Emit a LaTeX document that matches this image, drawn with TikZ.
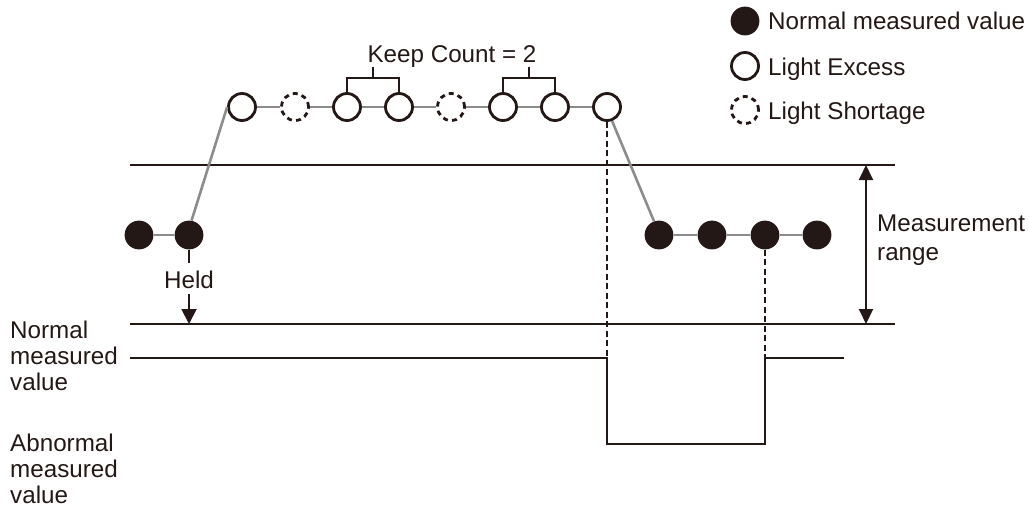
\documentclass[tikz,border=0pt]{standalone}
\usepackage{fontspec}
\setmainfont{Liberation Sans}
\usetikzlibrary{arrows.meta}
\definecolor{ink}{HTML}{231815}
\definecolor{connc}{HTML}{8C8C8C}
\begin{document}
\begin{tikzpicture}[x=1pt,y=-1pt,
  font=\fontsize{24.2}{26}\selectfont,
  meas/.style={circle, fill=ink, minimum size=28.8pt, inner sep=0pt},
  exc/.style={circle, draw=ink, line width=2.8pt, fill=white, minimum size=27pt, inner sep=0pt},
  short/.style={exc, dash pattern=on 5pt off 4.2pt},
  conn/.style={draw=connc, line width=2.6pt},
  rule/.style={draw=ink, line width=1.9pt},
  dline/.style={draw=ink, line width=1.8pt, dash pattern=on 6pt off 3.5pt},
  lbl/.style={anchor=base west, inner sep=0pt, text=ink},
  ctr/.style={anchor=base, inner sep=0pt, text=ink},
  tipped/.style={-{Triangle[width=15pt,length=15pt]}},
  dtipped/.style={{Triangle[width=14pt,length=15pt]}-{Triangle[width=14pt,length=15pt]}}
]
\useasboundingbox (0,0) rectangle (1029,515);

% range lines
\coordinate (tl) at (130,165); \coordinate (tr) at (895,165);
\coordinate (bl) at (130,324); \coordinate (br) at (895,324);
\draw[rule] (tl) -- (tr);
\draw[rule] (bl) -- (br);

% measured points
\node[meas] (b1) at (139,235) {};
\node[meas] (b2) at (189,235) {};
\node[exc] (w1) at (242,107) {};
\node[short] (s1) at (295,107) {};
\node[exc] (w2) at (347,107) {};
\node[exc] (w3) at (399,107) {};
\node[short] (s2) at (451,107) {};
\node[exc] (w4) at (503,107) {};
\node[exc] (w5) at (555,107) {};
\node[exc] (w6) at (607,107) {};
\node[meas] (r1) at (659,235) {};
\node[meas] (r2) at (712,235) {};
\node[meas] (r3) at (765,235) {};
\node[meas] (r4) at (817,235) {};

% connectors
\draw[conn] (b1) -- (b2);
\draw[conn] (b2.80) -- (w1.180);
\draw[conn] (w1) -- (s1);
\draw[conn] (s1) -- (w2);
\draw[conn] (w2) -- (w3);
\draw[conn] (w3) -- (s2);
\draw[conn] (s2) -- (w4);
\draw[conn] (w4) -- (w5);
\draw[conn] (w5) -- (w6);
\draw[conn] (w6.-70) -- (r1.110);
\draw[conn] (r1) -- (r2);
\draw[conn] (r2) -- (r3);
\draw[conn] (r3) -- (r4);

% keep count brackets
\coordinate (k1) at (373,78); \coordinate (k1t) at (373,67);
\coordinate (k2) at (529,78); \coordinate (k2t) at (529,67);
\draw[rule, line width=2pt] (w2.north) -- (w2.north |- k1) -- (w3.north |- k1) -- (w3.north);
\draw[rule, line width=2pt] (k1) -- (k1t);
\draw[rule, line width=2pt] (w4.north) -- (w4.north |- k2) -- (w5.north |- k2) -- (w5.north);
\draw[rule, line width=2pt] (k2) -- (k2t);
\node[ctr] (keep) at (452,62) {Keep Count = 2};

% held
\coordinate (h1) at (189,263);
\coordinate (h2) at (189,294);
\coordinate (h3) at (189,324);
\draw[rule] (b2.south) -- (h1);
\node[ctr] (held) at (189,288) {Held};
\draw[rule, tipped, fill=ink] (h2) -- (h3);

% measurement range arrow
\coordinate (m1) at (866,165); \coordinate (m2) at (866,324);
\draw[rule, dtipped, fill=ink] (m1) -- (m2);
\node[lbl] (mr1) at (877,231) {Measurement};
\node[lbl] (mr2) at (877,260) {range};

% output signal
\coordinate (o0) at (130,358);
\coordinate (o1) at (607,358);
\coordinate (o2) at (607,444);
\coordinate (o3) at (765,444);
\coordinate (o4) at (765,358);
\coordinate (o5) at (844,358);
\draw[rule, line width=1.7pt] (o0) -- (o1) -- (o2) -- (o3) -- (o4) -- (o5);
\draw[dline] (w6.south) -- (o1);
\draw[dline] (r3.south) -- (o4);

% left labels
\node[lbl] (n1) at (10,338) {Normal};
\node[lbl] (n2) at (10,364) {measured};
\node[lbl] (n3) at (10,390) {value};
\node[lbl] (a1) at (10,451) {Abnormal};
\node[lbl] (a2) at (10,477) {measured};
\node[lbl] (a3) at (10,503) {value};

% legend
\node[meas] (lm) at (745,21) {};
\node[exc] (le) at (745,66) {};
\node[short] (ls) at (745,110) {};
\node[lbl] (lmt) at (768,29) {Normal measured value};
\node[lbl] (let) at (768,75) {Light Excess};
\node[lbl] (lst) at (768,119) {Light Shortage};
\end{tikzpicture}
\end{document}
